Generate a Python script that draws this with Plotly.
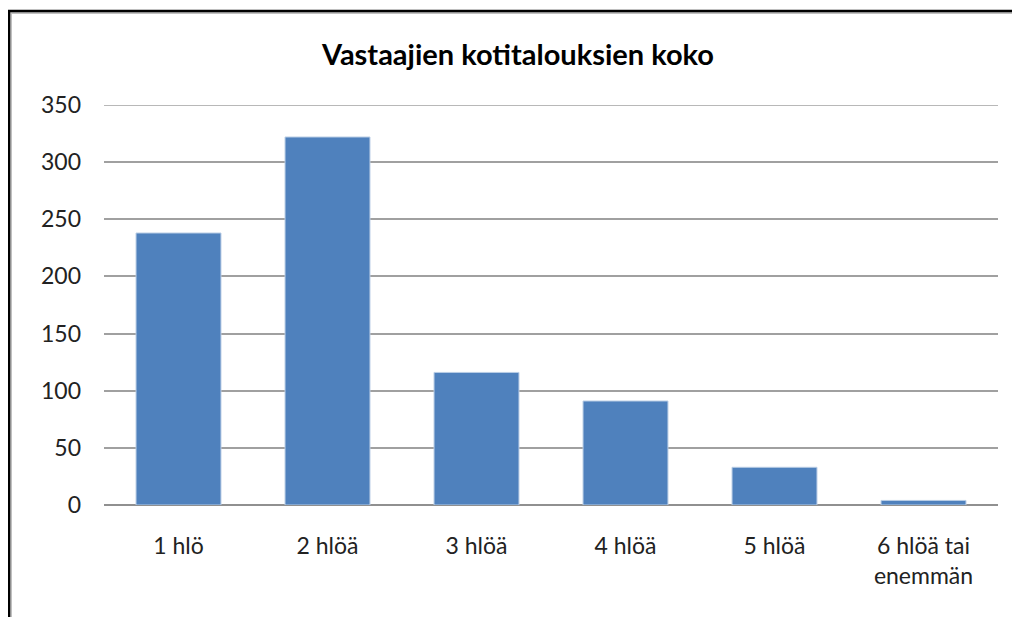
import plotly.graph_objects as go

categories = ["1 hlö", "2 hlöä", "3 hlöä", "4 hlöä", "5 hlöä", "6 hlöä tai<br>enemmän"]
values = [238, 322, 116, 91, 33, 4]
y_ticks = [0, 50, 100, 150, 200, 250, 300, 350]

W, H = 1012, 609
L, T = 96, 97
PW, PH = 894, 400

fig = go.Figure()
fig.add_trace(go.Bar(
    x=categories, y=values,
    marker=dict(color="#4F81BD", line=dict(color="#B9CDE5", width=1)),
    width=0.57,
))

FONT = "Lato"
fig.update_layout(
    width=W, height=H,
    margin=dict(l=L, r=W - L - PW, t=T, b=H - T - PH),
    paper_bgcolor="white", plot_bgcolor="white",
    title=dict(text="<b>Vastaajien kotitalouksien koko</b>", x=(518 - 8) / W, xanchor="center",
               y=1 - 47 / H, yanchor="middle",
               font=dict(family=FONT, size=29, color="black")),
    showlegend=False,
    xaxis=dict(showgrid=False, showline=False, ticks="",
               tickfont=dict(family=FONT, size=23, color="#222222"),
               ticklabelstandoff=25, fixedrange=True),
    yaxis=dict(range=[0, 350], tickvals=y_ticks, showgrid=True,
               gridcolor="#A0A0A0", gridwidth=1.5,
               zeroline=True, zerolinecolor="#909090", zerolinewidth=1.5,
               showline=False, ticks="",
               tickfont=dict(family=FONT, size=23, color="#222222"),
               ticklabelstandoff=22),
)

# top gridline at the range edge (plotly omits it)
fig.add_shape(type="line", xref="paper", yref="y", x0=0, x1=1,
              y0=y_ticks[-1], y1=y_ticks[-1],
              line=dict(color="#A0A0A0", width=1.5), layer="below")

# chart frame (black outer + light gray inner), cut at right/bottom
x_left = (1 - L) / PW
y_top = (T + PH - 3) / PH
x_left2 = (3 - L) / PW
y_top2 = (T + PH - 5) / PH
fig.add_shape(type="path", xref="paper", yref="paper",
              path=f"M {x_left2} -0.5 L {x_left2} {y_top2} L 1.2 {y_top2}",
              line=dict(color="#C0C0C0", width=2), layer="above")
fig.add_shape(type="path", xref="paper", yref="paper",
              path=f"M {x_left} -0.5 L {x_left} {y_top} L 1.2 {y_top}",
              line=dict(color="black", width=2.5), layer="above")

fig.write_html("out.html")
